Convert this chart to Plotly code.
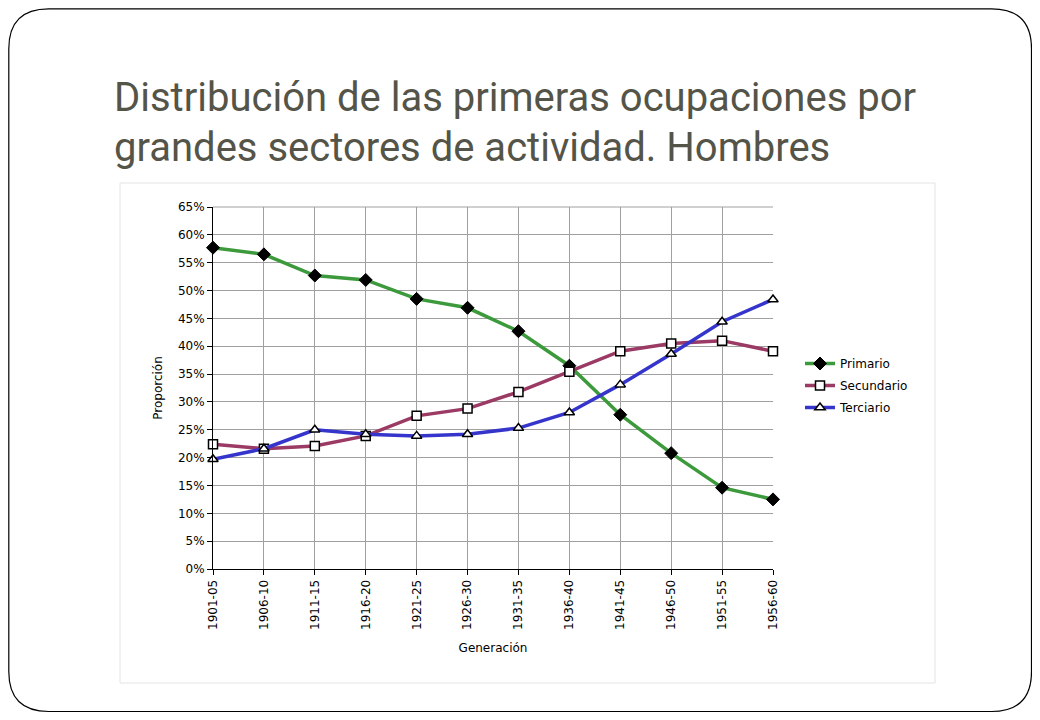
import plotly.graph_objects as go

generaciones = ["1901-05", "1906-10", "1911-15", "1916-20", "1921-25", "1926-30",
                "1931-35", "1936-40", "1941-45", "1946-50", "1951-55", "1956-60"]
primario = [57.7, 56.5, 52.7, 51.9, 48.5, 46.9, 42.7, 36.5, 27.7, 20.8, 14.6, 12.5]
secundario = [22.4, 21.6, 22.1, 23.9, 27.5, 28.8, 31.8, 35.4, 39.1, 40.5, 41.0, 39.1]
terciario = [19.7, 21.6, 25.0, 24.2, 23.9, 24.2, 25.3, 28.1, 33.1, 38.6, 44.4, 48.4]
y_ticks = list(range(0, 70, 5))

# page is rendered with an 8px body margin; work in page pixels and shift
OFF = 8
W, H = 1040 - OFF, 720 - OFF
L, R, T, B = 213 - OFF, 773 - OFF, 207 - OFF, 569 - OFF


def px(x):
    return (x - OFF - L) / (R - L)


def py(y):
    return (B - (y - OFF)) / (B - T)


fig = go.Figure()
series = [
    ("Primario", primario, "#3c9a3c", dict(symbol="diamond", size=10, color="black",
                                            line=dict(color="black", width=1))),
    ("Secundario", secundario, "#9b3a64", dict(symbol="square", size=9, color="white",
                                                line=dict(color="black", width=1.5))),
    ("Terciario", terciario, "#3535cc", dict(symbol="triangle-up", size=9, color="white",
                                              line=dict(color="black", width=1.5))),
]
for name, vals, col, mk in series:
    fig.add_trace(go.Scatter(
        x=generaciones, y=[v / 100 for v in vals], name=name, mode="lines+markers",
        line=dict(color=col, width=3.5), marker=mk, cliponaxis=False,
        legendgroup=name,
    ))

axis_font = dict(family="DejaVu Sans", size=12, color="black")

fig.update_layout(
    width=W, height=H,
    margin=dict(l=L, r=W - R, t=T, b=H - B, pad=0),
    paper_bgcolor="white", plot_bgcolor="white",
    showlegend=True,
    legend=dict(x=px(800), y=py(349), xanchor="left", yanchor="top",
                font=dict(family="DejaVu Sans", size=12, color="black"),
                bgcolor="rgba(0,0,0,0)", tracegroupgap=3, itemwidth=30),
    xaxis=dict(type="category", range=[0, 11], tickangle=-90, tickfont=axis_font,
               showgrid=True, gridcolor="#a0a0a0", gridwidth=1,
               showline=True, linecolor="black", linewidth=1,
               ticks="outside", ticklen=5, tickcolor="black",
               title=dict(text="Generación", font=dict(family="DejaVu Sans", size=12, color="black"),
                          standoff=14),
               zeroline=False, mirror=False),
    yaxis=dict(range=[0, 0.65], tickvals=[v / 100 for v in y_ticks],
               ticktext=[f"{v}%" for v in y_ticks], tickfont=axis_font,
               showgrid=True, gridcolor="#a0a0a0", gridwidth=1,
               showline=True, linecolor="black", linewidth=1,
               ticks="outside", ticklen=5, tickcolor="black",
               title=dict(text="Proporción", font=dict(family="DejaVu Sans", size=12, color="black"),
                          standoff=12),
               zeroline=False),
)

# top border of plot area (gray)
fig.add_shape(type="line", xref="paper", yref="paper", x0=0, x1=1, y0=1, y1=1,
              line=dict(color="#a0a0a0", width=1), layer="below")

# chart frame
fig.add_shape(type="rect", xref="paper", yref="paper",
              x0=px(120), x1=px(935), y0=py(683), y1=py(183),
              line=dict(color="#e4e4e4", width=1), layer="below")

# slide rounded border
x0, x1, y0, y1, r = 8.8, 1031.5, 8.8, 711.5, 40
pts = [
    f"M {px(x0 + r)},{py(y0)}",
    f"L {px(x1 - r)},{py(y0)}",
    f"Q {px(x1)},{py(y0)} {px(x1)},{py(y0 + r)}",
    f"L {px(x1)},{py(y1 - r)}",
    f"Q {px(x1)},{py(y1)} {px(x1 - r)},{py(y1)}",
    f"L {px(x0 + r)},{py(y1)}",
    f"Q {px(x0)},{py(y1)} {px(x0)},{py(y1 - r)}",
    f"L {px(x0)},{py(y0 + r)}",
    f"Q {px(x0)},{py(y0)} {px(x0 + r)},{py(y0)}",
    "Z",
]
fig.add_shape(type="path", xref="paper", yref="paper", path=" ".join(pts),
              line=dict(color="black", width=1.2), layer="below")

title_font = dict(family="Roboto, sans-serif", size=40, color="#545448")
fig.add_annotation(xref="paper", yref="paper", x=px(112), y=py(97), xanchor="left", yanchor="middle",
                   text="Distribución de las primeras ocupaciones por", showarrow=False,
                   font=title_font)
fig.add_annotation(xref="paper", yref="paper", x=px(112), y=py(147), xanchor="left", yanchor="middle",
                   text="grandes sectores de actividad. Hombres", showarrow=False,
                   font=title_font)

fig.write_html("out.html")
